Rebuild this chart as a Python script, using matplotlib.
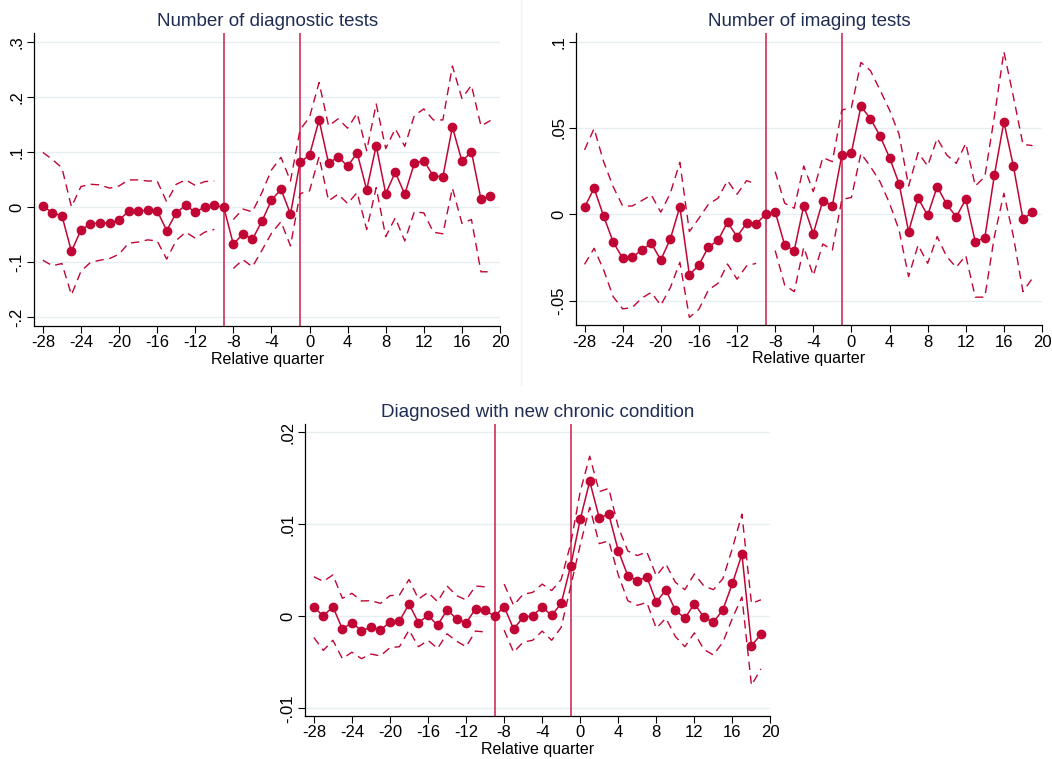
import numpy as np
import matplotlib
matplotlib.use("Agg")
import matplotlib.pyplot as plt
from matplotlib.lines import Line2D

plt.rcParams['font.family'] = ['Liberation Sans', 'DejaVu Sans']
plt.rcParams['axes.unicode_minus'] = False

nan = np.nan
quarters = np.arange(-28, 20)

# Number of diagnostic tests
diag_est = [0.003, -0.010, -0.015, -0.080, -0.041, -0.030, -0.028, -0.029, -0.023, -0.007,
            -0.007, -0.005, -0.006, -0.042, -0.010, 0.004, -0.009, 0.001, 0.004, 0.0,
            -0.067, -0.048, -0.058, -0.025, 0.013, 0.033, -0.012, 0.082, 0.095, 0.159,
            0.080, 0.092, 0.075, 0.099, 0.032, 0.112, 0.025, 0.064, 0.024, 0.080,
            0.085, 0.057, 0.056, 0.146, 0.084, 0.101, 0.015, 0.021]
diag_hi = [0.100, 0.087, 0.072, 0.001, 0.038, 0.042, 0.041, 0.035, 0.039, 0.050,
           0.050, 0.048, 0.048, 0.010, 0.042, 0.050, 0.040, 0.047, 0.048, nan,
           -0.022, -0.003, -0.008, 0.027, 0.068, 0.091, 0.048, 0.141, 0.164, 0.227,
           0.148, 0.161, 0.144, 0.171, 0.103, 0.188, 0.107, 0.143, 0.111, 0.167,
           0.179, 0.159, 0.159, 0.257, 0.198, 0.222, 0.148, 0.158]
diag_lo = [-0.096, -0.106, -0.102, -0.159, -0.116, -0.100, -0.096, -0.093, -0.085, -0.065,
           -0.063, -0.059, -0.061, -0.094, -0.060, -0.045, -0.056, -0.045, -0.040, nan,
           -0.111, -0.095, -0.108, -0.078, -0.047, -0.026, -0.070, 0.025, 0.030, 0.092,
           0.012, 0.024, 0.007, 0.027, -0.040, 0.036, -0.053, -0.019, -0.061, -0.008,
           -0.010, -0.045, -0.048, 0.035, -0.029, -0.022, -0.117, -0.117]

# Number of imaging tests
img_est = [0.0041, 0.0151, -0.0010, -0.0160, -0.0255, -0.0249, -0.0207, -0.0168, -0.0264, -0.0143,
           0.0044, -0.0351, -0.0293, -0.0189, -0.0151, -0.0046, -0.0129, -0.0052, -0.0056, 0.0,
           0.0015, -0.0178, -0.0210, 0.0050, -0.0112, 0.0079, 0.0050, 0.0344, 0.0357, 0.0625,
           0.0554, 0.0454, 0.0328, 0.0178, -0.0100, 0.0093, -0.0006, 0.0160, 0.0058, -0.0015,
           0.0087, -0.0160, -0.0135, 0.0226, 0.0535, 0.0278, -0.0027, 0.0012]
img_hi = [0.0373, 0.0496, 0.0305, 0.0160, 0.0048, 0.0048, 0.0079, 0.0112, 0.0012, 0.0122,
          0.0301, -0.0100, -0.0023, 0.0058, 0.0093, 0.0195, 0.0116, 0.0195, 0.0176, nan,
          0.0247, 0.0064, 0.0035, 0.0280, 0.0131, 0.0328, 0.0305, 0.0604, 0.0618, 0.0880,
          0.0832, 0.0720, 0.0604, 0.0463, 0.0164, 0.0357, 0.0280, 0.0440, 0.0344, 0.0295,
          0.0411, 0.0164, 0.0218, 0.0566, 0.0942, 0.0681, 0.0405, 0.0398]
img_lo = [-0.0290, -0.0197, -0.0322, -0.0477, -0.0548, -0.0540, -0.0486, -0.0452, -0.0527, -0.0425,
          -0.0278, -0.0597, -0.0550, -0.0438, -0.0400, -0.0288, -0.0376, -0.0299, -0.0284, nan,
          -0.0210, -0.0410, -0.0448, -0.0191, -0.0355, -0.0172, -0.0207, 0.0087, 0.0097, 0.0353,
          0.0276, 0.0189, 0.0064, -0.0091, -0.0361, -0.0178, -0.0284, -0.0129, -0.0245, -0.0307,
          -0.0239, -0.0480, -0.0480, -0.0129, 0.0122, -0.0129, -0.0448, -0.0370]

# Diagnosed with new chronic condition
chron_est = [0.00098, 0.00004, 0.00105, -0.00138, -0.00069, -0.00156, -0.00120, -0.00149, -0.00062, -0.00051,
             0.00134, -0.00069, 0.00011, -0.00098, 0.00069, -0.00025, -0.00072, 0.00083, 0.00069, 0.0,
             0.00105, -0.00138, -0.00010, 0.00007, 0.00100, 0.00010, 0.00140, 0.00550, 0.01054, 0.01467,
             0.01070, 0.01110, 0.00714, 0.00442, 0.00384, 0.00428, 0.00156, 0.00286, 0.00069, -0.00022,
             0.00138, -0.00010, -0.00065, 0.00072, 0.00359, 0.00674, -0.00319, -0.00196]
chron_hi = [0.0043, 0.0038, 0.0045, 0.00196, 0.0025, 0.00167, 0.0017, 0.00141, 0.00225, 0.00232,
            0.0040, 0.00188, 0.0026, 0.0016, 0.0033, 0.00225, 0.00178, 0.0033, 0.0032, nan,
            0.0035, 0.0012, 0.0024, 0.0026, 0.0035, 0.0028, 0.0040, 0.0079, 0.01355, 0.0174,
            0.01355, 0.0139, 0.0097, 0.0071, 0.0066, 0.0070, 0.0044, 0.0057, 0.0037, 0.0029,
            0.0046, 0.0033, 0.0029, 0.0041, 0.0074, 0.0111, 0.0014, 0.0018]
chron_lo = [-0.0023, -0.0037, -0.0026, -0.0046, -0.0039, -0.0046, -0.0041, -0.0043, -0.0034, -0.0033,
            -0.0015, -0.0033, -0.0026, -0.0035, -0.0019, -0.0027, -0.0033, -0.0016, -0.0017, nan,
            -0.0015, -0.0039, -0.0028, -0.0026, -0.0016, -0.0026, -0.0012, 0.0033, 0.00775, 0.01185,
            0.0079, 0.0082, 0.0045, 0.0017, 0.0012, 0.0015, -0.0013, -0.0002, -0.0022, -0.0033,
            -0.0018, -0.0036, -0.0042, -0.0028, -0.0002, 0.0021, -0.0075, -0.0057]

xticks = list(range(-28, 21, 4))
event_lines = [-9, -1]

RED = '#c10534'
VLINE = '#cf2f57'
GRID = '#e6eef0'
TITLE = '#1f2d52'


def draw_panel(rect, title, est, hi, lo, ylim, yticks, yticklabels):
    ax = fig.add_axes(rect)
    ax.set_xlim(-28.9, 20)
    ax.set_ylim(*ylim)
    for v in yticks:
        ax.axhline(v, color=GRID, lw=1.0, zorder=0)
    for v in event_lines:
        ax.axvline(v, color=VLINE, lw=1.2, zorder=1)
    ax.plot(quarters, hi, color=RED, lw=1.0, ls=(0, (6, 4)), zorder=2)
    ax.plot(quarters, lo, color=RED, lw=1.0, ls=(0, (6, 4)), zorder=2)
    ax.plot(quarters, est, color=RED, lw=1.1, marker='o', ms=6, zorder=3)
    ax.set_xticks(xticks)
    ax.set_yticks(yticks)
    ax.set_yticklabels(yticklabels, rotation=90, va='center')
    ax.tick_params(direction='out', length=5, width=0.8, labelsize=12, colors='black', pad=2)
    for s in ['top', 'right']:
        ax.spines[s].set_visible(False)
    for s in ['left', 'bottom']:
        ax.spines[s].set_color('black')
        ax.spines[s].set_linewidth(0.9)
    ax.set_xlabel('Relative quarter', fontsize=11.5, labelpad=1)
    ax.set_title(title, fontsize=13.5, color=TITLE, pad=5)
    return ax


fig = plt.figure(figsize=(10.52, 7.59), dpi=100)

draw_panel([0.0326, 0.5709, 0.4427, 0.3856], 'Number of diagnostic tests',
           diag_est, diag_hi, diag_lo, (-0.215, 0.317),
           [-0.2, -0.1, 0, 0.1, 0.2, 0.3], ['-.2', '-.1', '0', '.1', '.2', '.3'])

draw_panel([0.5475, 0.5714, 0.4430, 0.3851], 'Number of imaging tests',
           img_est, img_hi, img_lo, (-0.0643, 0.105),
           [-0.05, 0, 0.05, 0.1], ['-.05', '0', '.05', '.1'])

draw_panel([0.2902, 0.0570, 0.4422, 0.3844], 'Diagnosed with new chronic condition',
           chron_est, chron_hi, chron_lo, (-0.0108, 0.0209),
           [-0.01, 0, 0.01, 0.02], ['-.01', '0', '.01', '.02'])

# faint divider between the two top graphs
fig.add_artist(Line2D([0.495, 0.495], [0.493, 1.0], transform=fig.transFigure,
                      color='#eef3f5', lw=1.0))

fig.savefig('out.png', dpi=100, facecolor='white')
